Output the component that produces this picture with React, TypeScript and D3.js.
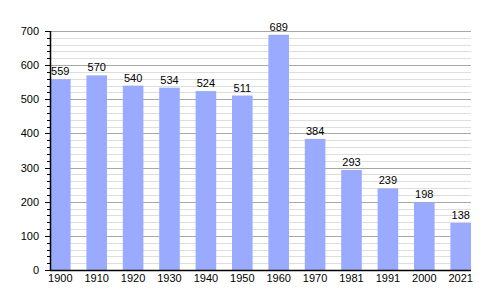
import React from "react";
import * as d3 from "d3";

const years = ["1900", "1910", "1920", "1930", "1940", "1950", "1960", "1970", "1981", "1991", "2000", "2021"];
const population = [559, 570, 540, 534, 524, 511, 689, 384, 293, 239, 198, 138];
const majorTicks = [0, 100, 200, 300, 400, 500, 600, 700];

export default function App() {
  const W = 500, H = 300;
  const left = 50, right = 471, top = 31, bottom = 270;
  const x = d3.scaleBand<string>().domain(years).range([left, right]).paddingInner(0.434).paddingOuter(0).align(0);
  const y = d3.scaleLinear().domain([0, 700]).range([bottom, top]);
  const minor = d3.range(0, 701, 20).filter((v) => v % 100 !== 0);
  const font = "'Liberation Sans', Arial, sans-serif";
  return (
    <svg width={W} height={H} style={{ position: "absolute", left: 0, top: 0, background: "#fff" }} fontFamily={font}>
      {minor.map((v) => (
        <line key={"m" + v} x1={left} x2={right} y1={Math.round(y(v)) + 0.5} y2={Math.round(y(v)) + 0.5} stroke="#dedede" strokeWidth={1} />
      ))}
      {majorTicks.map((v) => (
        <line key={"M" + v} x1={left} x2={right} y1={Math.round(y(v)) + 0.5} y2={Math.round(y(v)) + 0.5} stroke="#a8a8a8" strokeWidth={1} />
      ))}
      {years.map((yr, i) => (
        <rect key={yr} x={x(yr)} y={y(population[i])} width={x.bandwidth()} height={y(0) - y(population[i])} fill="#99aaff" />
      ))}
      {years.map((yr, i) => (
        <text key={"v" + yr} x={(x(yr) as number) + x.bandwidth() / 2} y={y(population[i]) - 4} textAnchor="middle" fontSize={11} fill="#000">
          {population[i]}
        </text>
      ))}
      {minor.map((v) => (
        <line key={"mt" + v} x1={left - 3} x2={left} y1={Math.round(y(v)) + 0.5} y2={Math.round(y(v)) + 0.5} stroke="#000" strokeWidth={1} />
      ))}
      {majorTicks.map((v) => (
        <g key={"yt" + v}>
          <line x1={left - 5} x2={left} y1={Math.round(y(v)) + 0.5} y2={Math.round(y(v)) + 0.5} stroke="#000" strokeWidth={1} />
          <text x={left - 11} y={y(v) + 4} textAnchor="end" fontSize={11} fill="#000">{v}</text>
        </g>
      ))}
      <line x1={left + 0.5} x2={left + 0.5} y1={top} y2={bottom + 1} stroke="#000" strokeWidth={1.5} />
      <line x1={left} x2={right} y1={bottom + 0.5} y2={bottom + 0.5} stroke="#000" strokeWidth={1.5} />
      {years.map((yr) => (
        <text key={"x" + yr} x={(x(yr) as number) + x.bandwidth() / 2} y={282} textAnchor="middle" fontSize={11} fill="#000">
          {yr}
        </text>
      ))}
    </svg>
  );
}
